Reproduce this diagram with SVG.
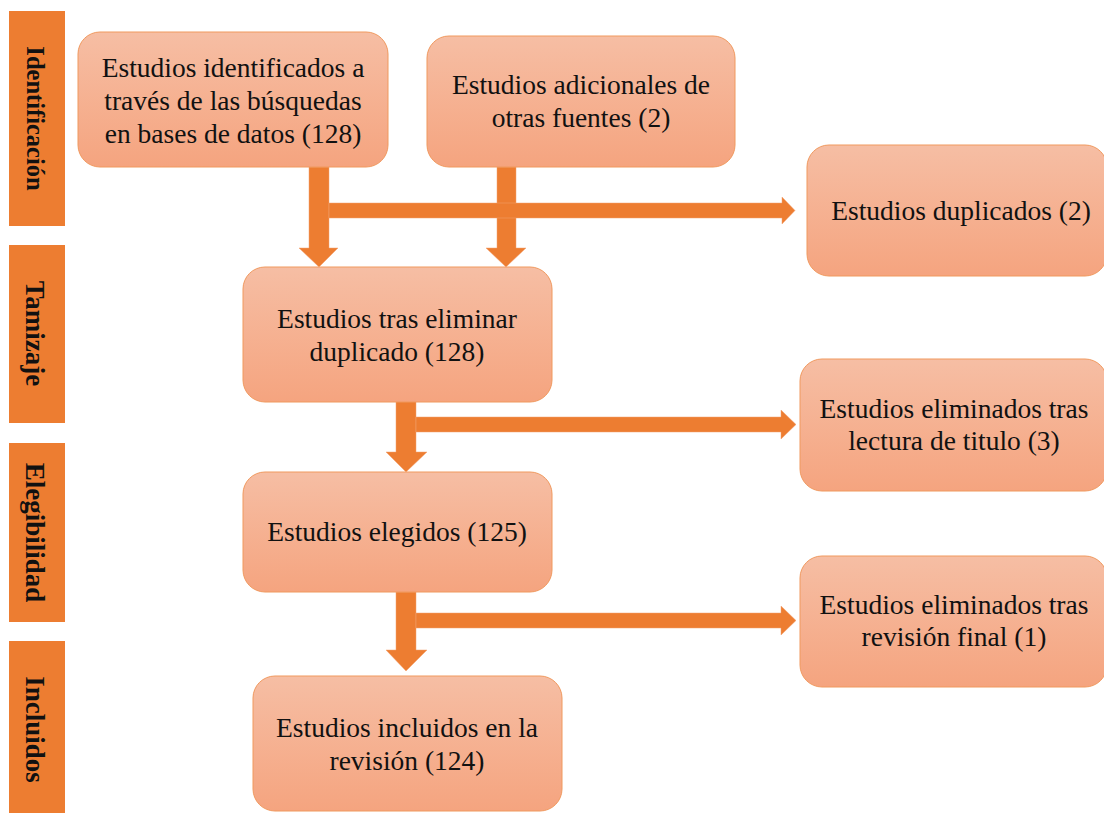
<svg xmlns="http://www.w3.org/2000/svg" width="1104" height="815" viewBox="0 0 1104 815">
<defs>
<linearGradient id="g" x1="0" y1="0" x2="0" y2="1">
<stop offset="0" stop-color="#f6bea4"/>
<stop offset="1" stop-color="#f5a47f"/>
</linearGradient>
<style>
.box{fill:url(#g);stroke:#f0995f;stroke-width:1}
.t{font-family:"Liberation Serif","Times New Roman",serif;font-size:27.5px;fill:#111;text-anchor:middle}
.bar{fill:#ed7d31}
.bt{font-family:"Liberation Serif","Times New Roman",serif;font-size:27px;font-weight:bold;fill:#111;text-anchor:middle}
.arr{fill:#ed7d31;stroke:#f2a070;stroke-width:0.5}
</style>
</defs>
<rect width="1104" height="815" fill="#fff"/>
<g id="phases">
<g id="phase-identificacion"><rect class="bar" x="9" y="11" width="56" height="215"/><text class="bt" style="font-size:24.5px" transform="translate(37,118.5) rotate(90)" y="10">Identificación</text></g>
<g id="phase-tamizaje"><rect class="bar" x="9" y="245" width="56" height="178"/><text class="bt" transform="translate(37,333.5) rotate(90)" y="11">Tamizaje</text></g>
<g id="phase-elegibilidad"><rect class="bar" x="9" y="443" width="56" height="179"/><text class="bt" transform="translate(37,532.5) rotate(90)" y="11">Elegibilidad</text></g>
<g id="phase-incluidos"><rect class="bar" x="9" y="641" width="56" height="172"/><text class="bt" transform="translate(37,729.5) rotate(90)" y="11">Incluidos</text></g>
</g>
<g id="connectors">
<polygon class="arr" points="309,167 329,167 329,248 338,248 319,267 299,248 309,248"/>
<polygon class="arr" points="497,167 516,167 516,248 526,248 506,267 486,248 497,248"/>
<polygon class="arr" points="329,203 782,203 782,197 795,210.5 782,224 782,218 329,218"/>
<polygon class="arr" points="396,399 416,399 416,452 427,452 406,472 386,452 396,452"/>
<polygon class="arr" points="416,417 781,417 781,410 796,424.5 781,439 781,432 416,432"/>
<polygon class="arr" points="396,592 416,592 416,650 427,650 406,671 386,650 396,650"/>
<polygon class="arr" points="416,613 781,613 781,606 796,620.5 781,635 781,628 416,628"/>
</g>
<g id="n-identificados"><rect class="box" x="78" y="32" width="310" height="135" rx="22"/>
<text class="t" x="233" y="77">Estudios identificados a</text>
<text class="t" x="233" y="110">través de las búsquedas</text>
<text class="t" x="233" y="143">en bases de datos (128)</text></g>
<g id="n-adicionales"><rect class="box" x="427" y="36" width="308" height="131" rx="22"/>
<text class="t" x="581" y="94">Estudios adicionales de</text>
<text class="t" x="581" y="127">otras fuentes (2)</text></g>
<g id="n-duplicados"><rect class="box" x="807" y="145" width="300" height="131" rx="22"/>
<text class="t" x="961" y="220">Estudios duplicados (2)</text></g>
<g id="n-tras-eliminar"><rect class="box" x="243" y="267" width="309" height="135" rx="22"/>
<text class="t" x="397" y="328">Estudios tras eliminar</text>
<text class="t" x="397" y="361">duplicado (128)</text></g>
<g id="n-elim-titulo"><rect class="box" x="800" y="359" width="307" height="132" rx="22"/>
<text class="t" x="954" y="418">Estudios eliminados tras</text>
<text class="t" x="954" y="450">lectura de titulo (3)</text></g>
<g id="n-elegidos"><rect class="box" x="243" y="472" width="309" height="120" rx="22"/>
<text class="t" x="397" y="541">Estudios elegidos (125)</text></g>
<g id="n-elim-revision"><rect class="box" x="800" y="556" width="307" height="131" rx="22"/>
<text class="t" x="954" y="614">Estudios eliminados tras</text>
<text class="t" x="954" y="646">revisión final (1)</text></g>
<g id="n-incluidos"><rect class="box" x="253" y="676" width="309" height="135" rx="22"/>
<text class="t" x="407" y="737">Estudios incluidos en la</text>
<text class="t" x="407" y="770">revisión (124)</text></g>
</svg>
